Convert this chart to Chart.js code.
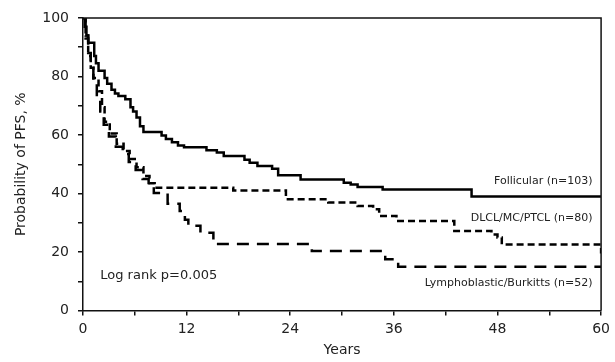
<!DOCTYPE html>
<html><head><meta charset="utf-8">
<script src="https://cdn.jsdelivr.net/npm/chart.js@4"></script>
<style>html,body{margin:0;padding:0;background:#fff}#wrap{width:615px;height:362px}</style>
</head><body><div id="wrap"><canvas id="c" width="615" height="362"></canvas></div>
<script>
// ---- data (months, % PFS) ----
const follicularT = [0,0.2,0.4,0.6,1.3,1.5,1.8,2.5,2.8,3.3,3.7,4.1,4.9,5.5,5.8,6.2,6.6,7.0,9.1,9.6,10.3,11.0,11.7,14.3,15.5,16.3,18.7,19.3,20.2,21.9,22.6,25.2,30.2,31.0,31.8,34.7,45.0,60];
const follicularV = [100,97,94,91.5,87,84.5,82,79.5,77.5,75.5,74.2,73.3,72.2,69.5,68,66,63,61,59.8,58.6,57.5,56.4,55.8,54.8,54,52.8,51.5,50.5,49.4,48.5,46.2,44.8,43.7,43.1,42.2,41.4,39,39];
const dlclT = [0,0.3,0.6,0.9,1.2,1.8,2.2,2.5,3.1,3.9,4.7,5.4,6.2,7.0,7.7,8.3,17.4,23.5,28.4,31.8,33.6,34.3,36.3,43.0,47.3,48.0,48.5,60];
const dlclV = [100,93,87,83,79.5,75,69.5,64.5,60.5,57,54.5,51.8,49,46,43.5,42,41,38,36.9,35.7,34.6,32.3,30.6,27.2,26,25,22.6,19.5];
const lymphoT = [0,0.3,0.6,0.9,1.2,1.6,2.0,2.4,3.0,3.8,4.6,5.3,6.1,6.9,7.6,8.2,9.8,11.2,11.8,12.2,13.6,15.1,26.5,35.0,36.5,60];
const lymphoV = [100,94,88,83,78,73,68,63.5,59.5,56,53.5,50.8,48,45,42.5,40.2,36.5,34,31,29,26.6,22.7,20.3,17.5,15,15];

const seriesNames = ["Follicular (n=103)", "DLCL/MC/PTCL (n=80)", "Lymphoblastic/Burkitts (n=52)"];
const xTickLabels = [0, 12, 24, 36, 48, 60];
const yTickLabels = [0, 20, 40, 60, 80, 100];
const xTitle = "Years";
const yTitle = "Probability of PFS, %";
const pValueText = "Log rank p=0.005";

const toPts = (t, v) => t.map((x, i) => ({x: x, y: v[i]}));

const FONT = "'DejaVu Sans', Verdana, sans-serif";
Chart.defaults.font.family = FONT;
Chart.defaults.color = '#222';

const textPlugin = {
  id: 'texts',
  afterDatasetsDraw(chart) {
    const {ctx, chartArea: a, scales: {x, y}} = chart;
    ctx.save();
    // frame top and right
    ctx.strokeStyle = '#111';
    ctx.lineWidth = 1.5;
    ctx.beginPath();
    ctx.moveTo(a.left, a.top); ctx.lineTo(a.right, a.top); ctx.lineTo(a.right, a.bottom);
    ctx.stroke();
    ctx.fillStyle = '#222';
    ctx.textBaseline = 'middle';
    ctx.font = '11px ' + FONT;
    ctx.textAlign = 'right';
    const lx = x.getPixelForValue(59);
    ctx.fillText(seriesNames[0], lx, y.getPixelForValue(44.2));
    ctx.fillText(seriesNames[1], lx, y.getPixelForValue(31.5));
    ctx.fillText(seriesNames[2], lx, y.getPixelForValue(9.2));
    ctx.font = '13px ' + FONT;
    ctx.textAlign = 'left';
    ctx.fillText(pValueText, x.getPixelForValue(2.0), y.getPixelForValue(12));
    ctx.restore();
  }
};

new Chart(document.getElementById('c'), {
  type: 'line',
  data: {
    datasets: [
      {label: seriesNames[0], data: toPts(follicularT, follicularV), stepped: true, borderColor: '#000', borderWidth: 2.5, pointRadius: 0, fill: false},
      {label: seriesNames[1], data: toPts(dlclT, dlclV), stepped: true, borderColor: '#000', borderWidth: 2.5, borderDash: [7, 4], pointRadius: 0, fill: false},
      {label: seriesNames[2], data: toPts(lymphoT, lymphoV), stepped: true, borderColor: '#000', borderWidth: 2.5, borderDash: [12, 8], pointRadius: 0, fill: false}
    ]
  },
  options: {
    responsive: false,
    devicePixelRatio: 1,
    animation: false,
    layout: {padding: {left: 0, right: 13, top: 18, bottom: 0}},
    plugins: {legend: {display: false}, tooltip: {enabled: false}},
    scales: {
      x: {
        type: 'linear', min: 0, max: 60,
        afterFit(s) { s.height = 51.5; },
        border: {display: true, color: '#111', width: 1.5},
        grid: {display: true, drawOnChartArea: false, color: '#111', lineWidth: 1.5, tickLength: 5},
        ticks: {stepSize: 6, autoSkip: false, maxRotation: 0, padding: 5, font: {size: 14},
          callback: v => xTickLabels.includes(v) ? String(v) : ''},
        title: {display: true, text: xTitle, font: {size: 14}, padding: {bottom: 3.5, top: 0}}
      },
      y: {
        min: 0, max: 100,
        afterFit(s) { s.width = 83; },
        border: {display: true, color: '#111', width: 1.5},
        grid: {display: true, drawOnChartArea: false, color: '#111', lineWidth: 1.5, tickLength: 5},
        ticks: {stepSize: 10, autoSkip: false, padding: 9, font: {size: 14},
          callback: v => yTickLabels.includes(v) ? String(v) : ''},
        title: {display: true, text: yTitle, font: {size: 14}, padding: {top: 12.5, bottom: 0}}
      }
    }
  },
  plugins: [textPlugin]
});
</script>
</body></html>
